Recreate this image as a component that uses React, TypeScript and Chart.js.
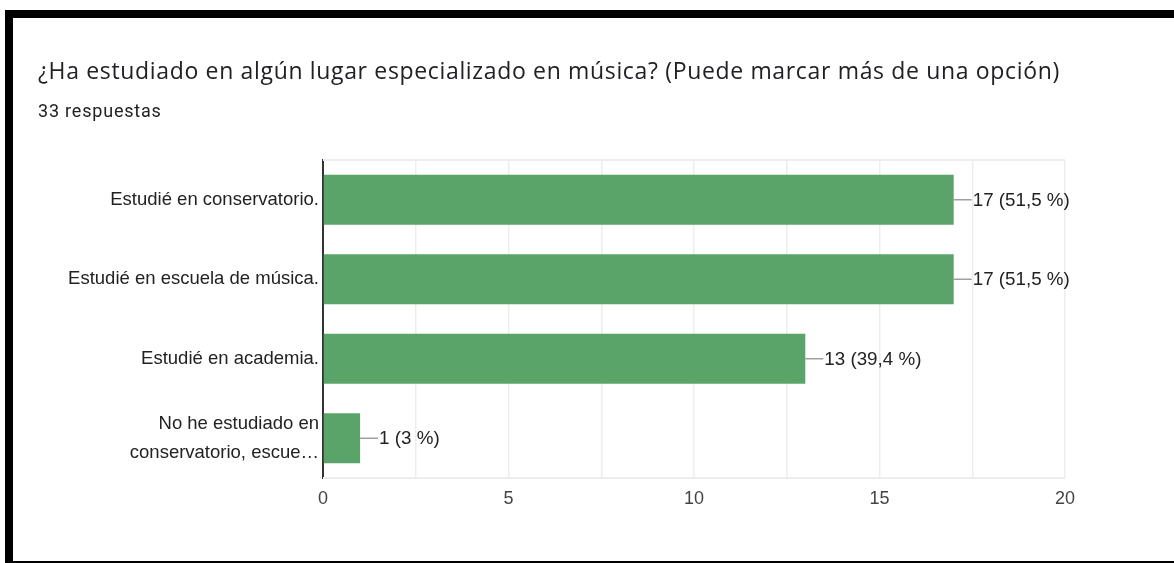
import React, { useEffect, useRef } from "react";
import { Chart, registerables } from "chart.js";

Chart.register(...registerables);

const TITLE = "¿Ha estudiado en algún lugar especializado en música? (Puede marcar más de una opción)";
const SUBTITLE = "33 respuestas";

const categories: (string | string[])[] = [
  "Estudié en conservatorio.",
  "Estudié en escuela de música.",
  "Estudié en academia.",
  ["No he estudiado en", "conservatorio, escue…"],
];
const counts = [17, 17, 13, 1];
const percents = ["51,5", "51,5", "39,4", "3"];
const xTickLabels = ["0", "5", "10", "15", "20"];

const W = 1174;
const H = 563;
const FONT = "'Liberation Sans', Arial, sans-serif";

export default function App() {
  const ref = useRef<HTMLCanvasElement | null>(null);

  useEffect(() => {
    document.body.style.margin = "0";
    const canvas = ref.current;
    if (!canvas) return;

    const valueLabels = {
      id: "valueLabels",
      afterDatasetsDraw(chart: any) {
        const ctx = chart.ctx;
        const meta = chart.getDatasetMeta(0);
        ctx.save();
        meta.data.forEach((bar: any, i: number) => {
          const x = bar.x;
          const y = bar.y;
          ctx.strokeStyle = "#a0a0a0";
          ctx.lineWidth = 1.5;
          ctx.beginPath();
          ctx.moveTo(x, y);
          ctx.lineTo(x + 18, y);
          ctx.stroke();
          ctx.fillStyle = "#222222";
          ctx.font = `18.8px ${FONT}`;
          ctx.textAlign = "left";
          ctx.textBaseline = "middle";
          ctx.fillText(`${counts[i]} (${percents[i]} %)`, x + 19, y + 1);
        });
        ctx.restore();
      },
    };

    const frame = {
      id: "frame",
      beforeDatasetsDraw(chart: any) {
        const { ctx, chartArea } = chart;
        ctx.save();
        ctx.strokeStyle = "#ededed";
        ctx.lineWidth = 2;
        ctx.beginPath();
        ctx.moveTo(chartArea.left, chartArea.top);
        ctx.lineTo(chartArea.right, chartArea.top);
        ctx.moveTo(chartArea.left, chartArea.bottom);
        ctx.lineTo(chartArea.right, chartArea.bottom);
        ctx.stroke();
        ctx.restore();
      },
    };

    const chart = new Chart(canvas, {
      type: "bar",
      data: {
        labels: categories,
        datasets: [
          {
            data: counts,
            backgroundColor: "#5ba469",
            borderWidth: 0,
            barPercentage: 0.63,
            categoryPercentage: 1,
          },
        ],
      },
      options: {
        indexAxis: "y",
        responsive: false,
        devicePixelRatio: 1,
        animation: false,
        layout: { padding: { left: 0, right: 109, top: 160, bottom: 45 } },
        plugins: {
          legend: { display: false },
          tooltip: { enabled: false },
        },
        scales: {
          x: {
            type: "linear",
            min: 0,
            max: 20,
            ticks: {
              stepSize: 2.5,
              autoSkip: false,
              maxRotation: 0,
              padding: 10,
              color: "#444444",
              font: { family: FONT, size: 18 },
              callback: (v: any) => {
                const n = Number(v);
                return n % 5 === 0 ? xTickLabels[n / 5] : "";
              },
            },
            grid: {
              drawTicks: false,
              lineWidth: 1.5,
              color: (c: any) => (c.tick && c.tick.value === 0 ? "rgba(0,0,0,0)" : "#ededed"),
            },
            border: { display: false },
            afterFit: (s: any) => {
              s.height = 40;
            },
          },
          y: {
            type: "category",
            grid: { display: false, drawTicks: false },
            border: { display: true, color: "#333333", width: 2 },
            ticks: {
              padding: 4,
              color: "#222222",
              font: { family: FONT, size: 18.5, lineHeight: 1.55 },
            },
            afterFit: (s: any) => {
              s.width = 323;
            },
          },
        },
      },
      plugins: [frame, valueLabels],
    });

    return () => chart.destroy();
  }, []);

  return (
    <div style={{ position: "fixed", left: 0, top: 0, width: W, height: H, background: "#fff", overflow: "hidden" }}>
      <canvas ref={ref} width={W} height={H} style={{ position: "absolute", left: 0, top: 0, width: W, height: H }} />
      <div style={{ position: "absolute", left: 5, top: 10, width: W - 5, height: 8, background: "#000" }} />
      <div style={{ position: "absolute", left: 5, top: 10, width: 8, height: H - 10, background: "#000" }} />
      <div style={{ position: "absolute", left: 5, top: H - 2, width: W - 5, height: 2, background: "#000" }} />
      <div
        style={{
          position: "absolute",
          left: 38,
          top: 55,
          fontFamily: "'Open Sans', sans-serif",
          fontSize: 23,
          letterSpacing: "0.66px",
          color: "#202124",
          whiteSpace: "nowrap",
          lineHeight: "30px",
        }}
      >
        {TITLE}
      </div>
      <div
        style={{
          position: "absolute",
          left: 38,
          top: 100,
          fontFamily: "Roboto, sans-serif",
          fontSize: 18,
          letterSpacing: "0.8px",
          color: "#202124",
          whiteSpace: "nowrap",
          lineHeight: "22px",
        }}
      >
        {SUBTITLE}
      </div>
    </div>
  );
}
